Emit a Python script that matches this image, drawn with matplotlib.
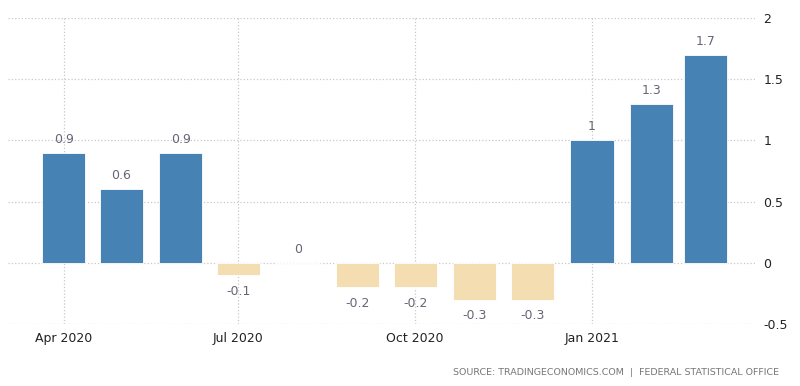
import datetime as dt
import matplotlib
matplotlib.use("Agg")
import matplotlib.pyplot as plt
import matplotlib.dates as mdates

# monthly values, Apr 2020 - Mar 2021
months = [dt.date(2020, m, 1) for m in range(4, 13)] + [dt.date(2021, m, 1) for m in range(1, 4)]
values = [0.9, 0.6, 0.9, -0.1, 0, -0.2, -0.2, -0.3, -0.3, 1, 1.3, 1.7]
value_labels = ["0.9", "0.6", "0.9", "-0.1", "0", "-0.2", "-0.2", "-0.3", "-0.3", "1", "1.3", "1.7"]
tick_dates = [dt.date(2020, 4, 1), dt.date(2020, 7, 1), dt.date(2020, 10, 1), dt.date(2021, 1, 1)]
tick_labels = ["Apr 2020", "Jul 2020", "Oct 2020", "Jan 2021"]
yticks = [-0.5, 0, 0.5, 1, 1.5, 2]
ytick_labels = ["-0.5", "0", "0.5", "1", "1.5", "2"]

blue = "#4682b4"
sand = "#f4deb1"

fig = plt.figure(figsize=(8, 3.86), dpi=100)
ax = fig.add_axes([0.01, 0.1606, 0.934, 0.7928])

colors = [blue if v >= 0 else sand for v in values]
ax.bar(months, values, width=22.5, color=colors, edgecolor="white", linewidth=0.6, zorder=3)

for d, v, lab in zip(months, values, value_labels):
    if v >= 0:
        ax.annotate(lab, (mdates.date2num(d), v), xytext=(0, 5), textcoords="offset points",
                    ha="center", va="bottom", fontsize=9, color="#666677")
    else:
        ax.annotate(lab, (mdates.date2num(d), v), xytext=(0, -7), textcoords="offset points",
                    ha="center", va="top", fontsize=9, color="#666677")

ax.set_xlim(mdates.date2num(dt.date(2020, 3, 3)), mdates.date2num(dt.date(2021, 3, 27)))
ax.set_ylim(-0.5, 2)
ax.set_xticks([mdates.date2num(d) for d in tick_dates])
ax.set_xticklabels(tick_labels)
ax.set_yticks(yticks)
ax.set_yticklabels(ytick_labels)
ax.yaxis.tick_right()

ax.grid(True, linestyle=":", color="#c8c8c8", linewidth=0.9, zorder=0)
for s in ax.spines.values():
    s.set_visible(False)
ax.tick_params(axis="both", length=0, labelsize=9, colors="#222222")
ax.tick_params(axis="x", pad=6)
ax.tick_params(axis="y", pad=6)

fig.text(0.974, 0.036, "SOURCE: TRADINGECONOMICS.COM  |  FEDERAL STATISTICAL OFFICE",
         ha="right", va="center", fontsize=6.8, color="#777777")

fig.savefig("out.png", dpi=100)
